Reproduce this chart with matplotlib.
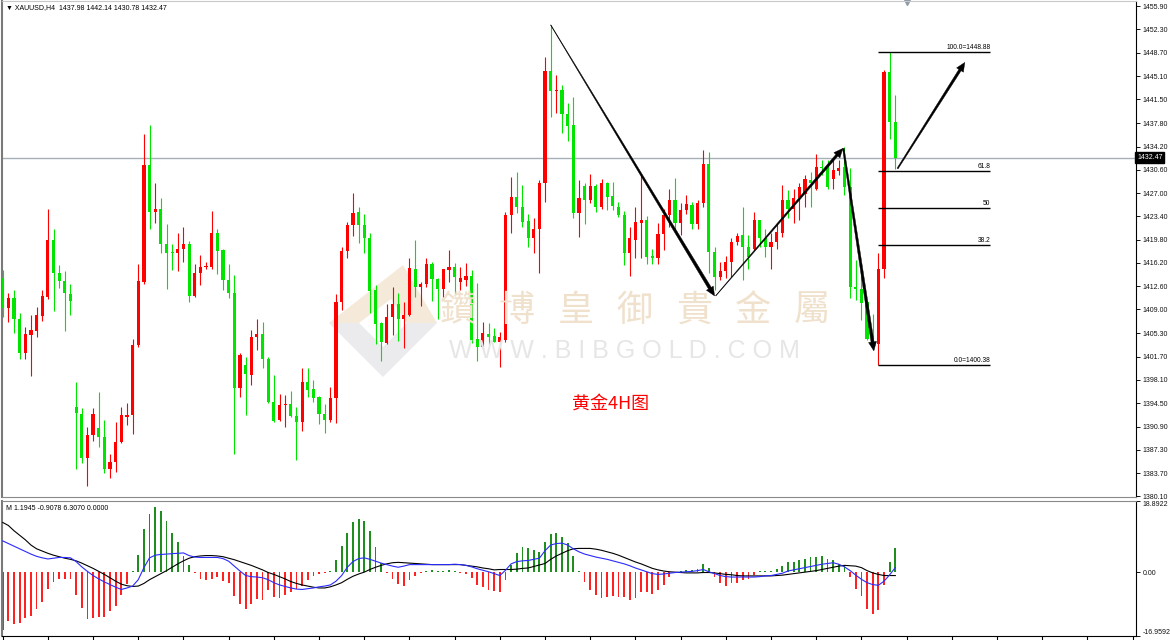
# -*- coding: utf-8 -*-
# XAUUSD H4 chart with MACD pane, MT4 style
import numpy as np
import matplotlib
matplotlib.use("Agg")
import matplotlib.pyplot as plt
from matplotlib.patches import Polygon
from matplotlib.transforms import IdentityTransform, blended_transform_factory

# candle data (H4)
opens = [1413.9, 1409.3, 1410.7, 1407.5, 1402.3, 1405.0, 1405.7, 1408.0, 1411.0, 1419.7,
         1414.7, 1413.4, 1411.4, 1393.9, 1392.9, 1386.1, 1389.6, 1390.6, 1389.3, 1384.4,
         1385.4, 1388.5, 1392.4, 1392.7, 1403.5, 1413.2, 1431.3, 1424.0, 1424.6, 1419.2,
         1417.9, 1417.8, 1418.4, 1419.1, 1411.1, 1414.6, 1415.6, 1415.5, 1420.9, 1418.2,
         1413.5, 1411.6, 1396.8, 1400.4, 1398.9, 1404.7, 1405.2, 1401.4, 1394.7, 1391.9,
         1394.3, 1394.4, 1392.6, 1391.6, 1397.8, 1396.7, 1395.4, 1392.9, 1391.9, 1395.3,
         1410.1, 1418.0, 1422.0, 1424.1, 1422.0, 1420.1, 1412.0, 1406.9, 1403.8, 1407.8,
         1409.9, 1407.6, 1408.1, 1415.3, 1412.4, 1412.9, 1416.1, 1413.7, 1412.1, 1415.1,
         1415.5, 1413.3, 1413.5, 1414.2, 1404.4, 1403.2, 1405.2, 1404.9, 1404.0, 1404.3,
         1423.6, 1426.4, 1424.8, 1422.7, 1420.0, 1421.4, 1428.6, 1445.9, 1442.8, 1442.9,
         1439.3, 1437.5, 1423.9, 1428.1, 1425.9, 1428.1, 1424.9, 1428.6, 1426.5, 1424.9,
         1423.6, 1417.7, 1419.8, 1422.4, 1422.8, 1417.2, 1417.0, 1420.6, 1423.6, 1425.9,
         1422.3, 1424.4, 1425.1, 1422.2, 1425.4, 1431.5, 1417.9, 1414.0, 1415.0, 1416.4,
         1419.5, 1420.5, 1418.7, 1418.4, 1422.8, 1420.0, 1418.7, 1419.5, 1420.8, 1425.9,
         1424.6, 1426.2, 1426.9, 1429.0, 1427.7, 1431.1, 1430.8, 1429.1, 1430.4, 1431.1,
         1428.0, 1412.5, 1412.2, 1410.2, 1405.3, 1403.7, 1415.2, 1445.7, 1437.98]
highs = [1415.1, 1411.5, 1412.0, 1408.4, 1406.3, 1408.2, 1409.4, 1412.0, 1424.6, 1421.5,
         1415.9, 1415.0, 1413.0, 1397.8, 1393.7, 1390.9, 1393.7, 1396.3, 1391.9, 1386.7,
         1391.6, 1393.9, 1394.5, 1404.4, 1416.1, 1436.1, 1437.5, 1428.6, 1426.2, 1422.2,
         1419.1, 1420.8, 1421.7, 1419.6, 1416.1, 1417.4, 1416.4, 1424.2, 1421.4, 1418.4,
         1416.1, 1414.3, 1402.2, 1401.6, 1405.8, 1407.6, 1407.1, 1401.7, 1398.9, 1396.0,
         1395.8, 1396.4, 1393.9, 1399.9, 1399.9, 1398.1, 1395.6, 1394.4, 1397.0, 1411.4,
         1418.6, 1422.6, 1427.0, 1424.9, 1423.8, 1420.8, 1412.8, 1407.1, 1409.9, 1412.4,
         1411.5, 1410.2, 1416.9, 1419.7, 1413.3, 1417.0, 1416.4, 1413.8, 1415.3, 1418.2,
         1416.2, 1415.6, 1416.2, 1415.1, 1413.1, 1407.1, 1406.9, 1406.1, 1405.5, 1424.1,
         1429.5, 1430.3, 1428.2, 1423.8, 1423.1, 1429.0, 1448.0, 1453.0, 1445.2, 1443.7,
         1440.9, 1441.8, 1429.0, 1428.5, 1429.9, 1428.4, 1429.1, 1428.7, 1428.7, 1425.6,
         1424.2, 1421.8, 1424.9, 1429.8, 1423.4, 1418.4, 1422.3, 1424.6, 1427.7, 1429.3,
         1425.4, 1426.7, 1425.6, 1425.9, 1433.6, 1433.4, 1418.7, 1416.4, 1417.2, 1420.0,
         1420.8, 1424.9, 1420.5, 1424.1, 1422.9, 1421.5, 1420.8, 1422.3, 1428.2, 1427.5,
         1427.7, 1428.6, 1429.8, 1430.3, 1433.1, 1432.1, 1432.1, 1432.1, 1432.1, 1434.2,
         1430.8, 1416.6, 1415.3, 1410.3, 1408.3, 1417.7, 1446.0, 1448.88, 1442.14]
lows = [1407.9, 1407.1, 1405.4, 1401.3, 1401.4, 1398.7, 1404.8, 1407.2, 1410.6, 1408.8,
        1412.3, 1405.7, 1408.1, 1384.3, 1385.2, 1381.7, 1388.7, 1387.8, 1383.7, 1383.0,
        1383.9, 1388.4, 1391.1, 1389.8, 1403.2, 1412.9, 1421.4, 1422.3, 1417.8, 1412.1,
        1415.1, 1414.9, 1416.4, 1410.2, 1411.0, 1412.8, 1415.2, 1415.3, 1414.5, 1412.0,
        1410.7, 1386.7, 1395.4, 1392.7, 1397.3, 1402.7, 1399.9, 1394.5, 1391.6, 1391.8,
        1390.8, 1392.3, 1385.7, 1390.2, 1395.5, 1394.7, 1391.3, 1389.9, 1391.6, 1391.5,
        1408.9, 1416.9, 1420.3, 1419.3, 1417.8, 1408.5, 1403.6, 1401.1, 1403.6, 1405.0,
        1404.2, 1403.1, 1408.0, 1411.0, 1409.6, 1412.5, 1410.3, 1407.6, 1410.7, 1413.3,
        1411.2, 1412.0, 1412.6, 1403.8, 1401.1, 1403.0, 1403.5, 1403.9, 1400.1, 1404.0,
        1420.8, 1423.9, 1421.8, 1418.7, 1417.8, 1414.6, 1425.6, 1438.7, 1439.4, 1436.3,
        1435.1, 1423.1, 1420.2, 1422.2, 1425.4, 1424.1, 1424.6, 1424.4, 1424.4, 1423.3,
        1415.9, 1414.2, 1416.9, 1417.0, 1416.1, 1416.1, 1416.1, 1418.2, 1421.8, 1421.4,
        1420.5, 1423.8, 1421.5, 1421.5, 1424.9, 1414.6, 1412.0, 1413.5, 1413.8, 1414.0,
        1419.0, 1413.5, 1415.3, 1418.2, 1418.7, 1417.1, 1415.2, 1418.4, 1420.2, 1423.1,
        1422.3, 1422.8, 1424.9, 1424.9, 1427.5, 1429.8, 1427.7, 1427.7, 1429.8, 1426.7,
        1410.7, 1410.4, 1407.4, 1404.3, 1403.9, 1400.38, 1413.8, 1435.4, 1430.78]
closes = [1409.2, 1410.7, 1407.5, 1402.3, 1405.2, 1405.8, 1408.1, 1411.1, 1419.7, 1414.7,
          1413.4, 1411.5, 1410.3, 1393.0, 1386.1, 1389.6, 1392.8, 1389.3, 1384.4, 1385.4,
          1388.5, 1392.7, 1392.7, 1403.5, 1413.4, 1431.3, 1424.0, 1424.6, 1419.2, 1417.8,
          1417.8, 1418.4, 1419.1, 1411.1, 1414.6, 1415.6, 1415.7, 1420.9, 1418.1, 1413.5,
          1411.5, 1396.8, 1401.9, 1399.0, 1404.8, 1405.2, 1401.3, 1394.7, 1391.8, 1394.3,
          1394.4, 1392.5, 1391.6, 1397.8, 1396.5, 1395.3, 1392.8, 1391.9, 1395.3, 1410.1,
          1418.0, 1422.0, 1423.9, 1422.0, 1420.1, 1411.9, 1406.8, 1403.9, 1407.8, 1409.9,
          1407.6, 1408.1, 1415.4, 1412.4, 1412.9, 1416.1, 1413.7, 1412.1, 1415.2, 1415.5,
          1414.0, 1413.9, 1414.2, 1404.3, 1403.2, 1405.3, 1404.8, 1404.0, 1404.7, 1423.6,
          1426.4, 1424.8, 1422.6, 1420.1, 1421.4, 1428.6, 1445.9, 1442.8, 1443.0, 1439.3,
          1437.4, 1423.9, 1426.2, 1425.9, 1428.1, 1424.9, 1428.5, 1426.4, 1425.0, 1423.6,
          1417.7, 1420.0, 1422.6, 1422.9, 1417.1, 1417.0, 1420.6, 1423.6, 1425.9, 1422.3,
          1424.4, 1425.3, 1422.2, 1425.5, 1431.5, 1417.9, 1414.0, 1415.0, 1416.4, 1419.5,
          1420.3, 1418.7, 1417.1, 1422.8, 1420.0, 1418.7, 1419.5, 1421.0, 1425.9, 1424.6,
          1426.2, 1427.9, 1429.1, 1428.5, 1431.1, 1430.8, 1427.9, 1430.5, 1430.9, 1427.9,
          1412.5, 1412.2, 1410.0, 1404.4, 1404.3, 1415.3, 1445.7, 1438.0, 1432.47]

# MACD pane values
macd_hist = [-15.3, -13.1, -13.7, -13.4, -12.2, -11.6, -9.9, -7.9, -4.5, -2.6,
             -1.7, -1.7, -1.7, -6.1, -9.6, -12.5, -12.2, -12.0, -11.8, -10.2,
             -9.0, -6.1, -3.2, 0.3, 4.6, 11.4, 15.5, 17.2, 16.2, 13.7,
             10.5, 7.9, 4.4, 1.8, -0.3, -1.7, -2.0, -1.7, -1.4, -2.3,
             -3.0, -6.4, -8.5, -9.9, -8.4, -7.2, -7.4, -4.8, -6.7, -7.0,
             -6.1, -5.2, -4.5, -3.7, -2.2, -0.9, -0.4, -0.1, 0.2, 3.1,
             7.0, 10.5, 13.3, 14.2, 13.6, 10.9, 6.8, 2.5, -0.3, -1.9,
             -3.1, -3.7, -2.2, -1.0, -0.3, 0.4, 0.6, 0.3, 0.3, 0.6,
             0.2, -0.2, -0.5, -1.5, -3.3, -3.9, -4.8, -5.0, -5.4, -2.2,
             1.9, 5.0, 6.6, 6.5, 5.9, 5.4, 8.0, 10.2, 10.5, 9.4,
             7.7, 4.2, 0.3, -2.6, -4.8, -6.1, -6.8, -6.6, -6.4, -6.6,
             -6.6, -7.4, -6.8, -5.2, -5.4, -5.7, -4.8, -3.3, -1.3, -0.3,
             0.4, 0.7, 0.7, 0.9, 2.2, 1.0, -1.3, -2.8, -3.7, -3.0,
             -2.8, -2.2, -1.7, -0.7, 0.2, 0.3, 0.4, 0.9, 1.6, 2.6,
             2.8, 3.1, 3.5, 4.0, 4.1, 4.2, 3.5, 3.1, 2.2, 1.8,
             -1.3, -4.5, -6.3, -9.8, -11.1, -10.1, -3.5, 2.6, 6.307]
macd_blue = [8.3, 7.6, 6.9, 6.2, 5.5, 4.8, 4.2, 3.8, 3.5, 3.7,
             3.9, 3.9, 3.8, 2.8, 1.4, 0.2, -0.9, -1.8, -2.6, -3.3,
             -4.0, -4.6, -4.2, -3.7, -2.0, 1.2, 3.8, 4.5, 4.7, 4.8,
             4.9, 5.0, 5.1, 4.4, 4.0, 3.9, 3.9, 3.9, 3.9, 3.6,
             2.9, 1.6, 0.3, -0.9, -1.2, -1.3, -1.5, -2.0, -2.8, -3.4,
             -3.8, -4.2, -4.5, -4.6, -4.4, -4.2, -3.9, -3.7, -3.4, -2.4,
             -0.9, 1.3, 2.8, 3.6, 3.8, 3.4, 2.9, 2.4, 2.0, 1.6,
             1.3, 1.6, 2.0, 2.0, 2.0, 2.0, 2.0, 2.0, 2.0, 2.0,
             2.1, 2.0, 1.8, 1.4, 0.9, 0.5, 0.1, -0.4, -0.9, 0.5,
             2.2, 2.8, 3.0, 3.1, 3.4, 3.7, 5.7, 7.2, 7.6, 7.7,
             7.2, 6.2, 5.4, 4.8, 4.4, 4.0, 3.7, 3.4, 3.0, 2.6,
             2.2, 1.7, 1.1, 0.6, 0.1, -0.4, -0.6, -0.5, -0.3, -0.1,
             0.0, 0.1, 0.2, 0.4, 0.7, 0.1, -0.4, -0.9, -1.2, -1.3,
             -1.3, -1.3, -1.3, -1.3, -1.2, -1.0, -0.9, -0.6, -0.3, 0.3,
             0.6, 0.9, 1.2, 1.5, 1.8, 2.1, 2.3, 2.5, 2.1, 1.4,
             0.4, -0.8, -1.9, -2.8, -3.3, -3.5, -2.4, -0.7, 1.1945]
macd_black = [13.2, 12.4, 11.0, 9.8, 8.6, 7.2, 6.2, 5.6, 5.0, 4.5,
              4.1, 3.7, 3.4, 3.0, 2.4, 1.7, 1.0, 0.2, -0.6, -1.5,
              -2.4, -3.2, -3.6, -3.8, -3.7, -3.0, -2.0, -1.2, -0.4, 0.4,
              1.3, 2.2, 3.0, 3.7, 4.1, 4.3, 4.4, 4.4, 4.3, 4.1,
              3.7, 3.3, 2.8, 2.3, 1.8, 1.2, 0.6, -0.1, -0.6, -1.2,
              -1.8, -2.5, -3.0, -3.4, -3.7, -4.0, -4.2, -4.2, -3.9, -3.4,
              -2.8, -1.9, -1.1, -0.5, 0.0, 0.7, 1.3, 1.8, 2.2, 2.5,
              2.6, 2.5, 2.4, 2.3, 2.2, 2.1, 2.0, 2.0, 2.0, 2.0,
              2.0, 2.0, 1.8, 1.6, 1.4, 1.1, 0.9, 0.6, 0.7, 0.7,
              0.7, 0.8, 1.0, 1.1, 1.5, 1.9, 2.3, 3.4, 4.3, 5.0,
              5.7, 6.2, 6.3, 6.3, 6.3, 6.1, 5.8, 5.4, 5.0, 4.5,
              3.9, 3.3, 2.7, 2.2, 1.6, 1.0, 0.6, 0.3, 0.1, 0.0,
              -0.1, -0.2, -0.2, -0.2, -0.1, -0.1, -0.2, -0.4, -0.6, -0.7,
              -0.9, -1.0, -1.0, -1.0, -1.0, -1.0, -1.0, -0.9, -0.8, -0.6,
              -0.4, -0.2, 0.0, 0.2, 0.4, 0.7, 1.0, 1.3, 1.6, 1.8,
              1.7, 1.6, 1.2, 0.4, -0.2, -0.6, -0.9, -0.9, -0.9078]

# right axis labels
price_ticks = [1455.90, 1452.30, 1448.70, 1445.10, 1441.50, 1437.80, 1434.20, 1430.60,
               1427.00, 1423.40, 1419.80, 1416.20, 1412.60, 1409.00, 1405.30, 1401.70,
               1398.10, 1394.50, 1390.90, 1387.30, 1383.70, 1380.10]
macd_ticks = [18.8922, 0.0, -16.9592]
macd_labels = ["18.8922", "0.00", "-16.9592"]
last_price = 1432.47

# fibonacci retracement
fib_low = 1400.38
fib_high = 1448.88
fib_levels = [0.0, 38.2, 50.0, 61.8, 100.0]
fib_names = ["0.0=1400.38", "38.2", "50", "61.8", "100.0=1448.88"]

# arrows drawn on the chart: (candle index, price)
arrow_legs = [((97.0, 1453.0), (126.0, 1411.1), 0.4, 3.2),
              ((126.2, 1411.1), (148.7, 1433.9), 0.4, 2.6),
              ((148.8, 1433.9), (154.2, 1402.6), 1.6, 3.0),
              ((158.4, 1430.8), (170.3, 1447.2), 1.2, 2.6)]

header = "XAUUSD,H4  1437.98 1442.14 1430.78 1432.47"
macd_header = "M 1.1945 -0.9078 6.3070 0.0000"
chart_note = "黄金4H图"

W, H = 1170, 640
UP = "#ff0000"
DOWN = "#00e400"
FONT = ["Liberation Sans", "DejaVu Sans"]


def fpos(px, py):
    # pixel position -> figure fraction
    return px / W, 1 - py / H


def tapered_arrow(ax, p0, p1, w0, w1, head_len=9.0, head_w=4.0):
    a = ax.transData.transform(p0)
    b = ax.transData.transform(p1)
    d = b - a
    u = d / np.hypot(d[0], d[1])
    nr = np.array([-u[1], u[0]])
    base = b - u * head_len
    pts = [a + nr * w0 / 2, base + nr * w1 / 2, base + nr * head_w, b,
           base - nr * head_w, base - nr * w1 / 2, a - nr * w0 / 2]
    ax.figure.add_artist(Polygon(pts, closed=True, fc="black", ec="black", lw=0.3,
                                 transform=IdentityTransform(), zorder=8))


fig = plt.figure(figsize=(W / 100, H / 100), dpi=100)
fig.patch.set_facecolor("white")

ax = fig.add_axes([2 / W, 1 - 497 / H, 1134 / W, 496 / H])
ax2 = fig.add_axes([2 / W, 4 / H, 1134 / W, 135 / H])

xmin, xmax = -0.12, 200.6
ax.set_xlim(xmin, xmax)
ax.set_ylim(1380.0, 1456.7)
ax2.set_xlim(xmin, xmax)
ax2.set_ylim(-16.9592, 18.8922)

# ---- watermark (behind everything) ----
wm_chars = ["鑽", "博", "皇", "御", "貴", "金", "屬"]
for k, ch in enumerate(wm_chars):
    fx, fy = fpos(458 + k * 59, 311)
    fig.text(fx, fy, ch, fontsize=26, color="#f0e1cc", ha="center", va="center",
             family=["Noto Sans CJK TC", "DejaVu Sans"], zorder=0)
fx, fy = fpos(624, 351)
fig.text(fx, fy, " ".join("WWW.BIBGOLD.COM"), fontsize=18, color="#e6e6e6",
         ha="center", va="center", family=FONT, zorder=0)
# diamond logo
cx, cy, r1, r2 = 383, 323, 54, 24
outer = [(cx - r1, cy), (cx + 20, cy - r1 - 4), (cx + r1, cy), (cx, cy + r1)]
top_band = [fpos(*p) for p in [outer[0], outer[1], outer[2], (cx + r2, cy), (cx + 8, cy - r2), (cx - r2, cy)]]
bot_band = [fpos(*p) for p in [outer[0], (cx - r2, cy), (cx, cy + r2), (cx + r2, cy), outer[2], outer[3]]]
fig.add_artist(Polygon(top_band, closed=True, fc="#f5ead9", ec="none", transform=fig.transFigure, zorder=0))
fig.add_artist(Polygon(bot_band, closed=True, fc="#ebebed", ec="none", transform=fig.transFigure, zorder=0))
ax.set_facecolor("none")
ax2.set_facecolor("none")

# ---- candles ----
o = np.array(opens)
hi = np.array(highs)
lo = np.array(lows)
c = np.array(closes)
x = np.arange(len(c))
cols = np.where(c >= o, UP, DOWN)
ax.vlines(x, lo, hi, colors=cols, lw=0.8, zorder=3)
ax.bar(x, np.maximum(np.abs(c - o), 0.15), bottom=np.minimum(o, c), width=0.56,
       color=cols, linewidth=0, zorder=4)

# current price line
ax.axhline(last_price, color="#a7afb8", lw=1.0, zorder=2)

# fibonacci levels
fib_x0, fib_x1 = 155.0, 174.8
for lev, name in zip(fib_levels, fib_names):
    p = fib_low + lev / 100.0 * (fib_high - fib_low)
    ax.hlines(p, fib_x0, fib_x1, color="black", lw=1.0, zorder=5)
    ax.text(fib_x1, p + 0.15, name, fontsize=4.8, ha="right", va="bottom",
            family=FONT, zorder=6)

# text on chart
ax.text(4 / 1134, 1 - 7 / 496, "\u25bc " + header, transform=ax.transAxes, fontsize=5,
        ha="left", va="center", family=FONT)
fx, fy = fpos(611, 404)
fig.text(fx, fy, chart_note, fontsize=13, color="#ff0000", ha="center",
         va="center", family=["Noto Sans CJK SC", "DejaVu Sans"], zorder=6)
ax.plot([160.0], [0.997], marker="v", ms=5, color="#8e9aa8",
        transform=blended_transform_factory(ax.transData, ax.transAxes), clip_on=False)

# right price axis
ax.yaxis.tick_right()
ax.set_yticks(price_ticks)
ax.set_yticklabels(["%.2f" % v for v in price_ticks])
ax.set_xticks([])
ax.tick_params(axis="y", length=3, width=0.7, labelsize=5, pad=2, colors="#111111")
for t in ax.get_yticklabels():
    t.set_family(FONT)
ax.spines["right"].set_color("black")
ax.spines["left"].set_color("#7a7a7a")
ax.spines["left"].set_linewidth(1.5)
ax.spines["top"].set_color("#c8c8c8")
ax.spines["bottom"].set_color("#8a8a8a")

# last price box
ax.text(1.001, last_price, "%.2f" % last_price,
        transform=blended_transform_factory(ax.transAxes, ax.transData),
        fontsize=5, color="white", ha="left", va="center", family=FONT,
        bbox=dict(boxstyle="square,pad=0.25", fc="black", ec="black"), clip_on=False)

# arrows
for p0, p1, w0, w1 in arrow_legs:
    tapered_arrow(ax, p0, p1, w0, w1)

# ---- MACD pane ----
hist = np.array(macd_hist)
ax2.bar(x, hist, width=0.32, color=np.where(hist >= 0, "#1e8f1e", "#ff2020"), linewidth=0, zorder=2)
ax2.plot(x, macd_black, color="black", lw=0.8, zorder=3)
ax2.plot(x, macd_blue, color="#2a2aff", lw=0.8, zorder=4)
ax2.text(4 / 1134, 1 - 7 / 135, macd_header, transform=ax2.transAxes, fontsize=5,
         ha="left", va="center", family=FONT)

ax2.yaxis.tick_right()
ax2.set_yticks(macd_ticks)
ax2.set_yticklabels(macd_labels)
ax2.tick_params(axis="y", length=3, width=0.7, labelsize=5, pad=2, colors="#111111")
labs = ax2.get_yticklabels()
labs[0].set_va("top")
labs[2].set_va("bottom")
for t in labs:
    t.set_family(FONT)
ax2.set_xticks(np.arange(0, 201, 8))
ax2.tick_params(axis="x", length=3, width=0.8, labelbottom=False, direction="out")
ax2.spines["right"].set_color("black")
ax2.spines["bottom"].set_color("black")
ax2.spines["left"].set_color("#7a7a7a")
ax2.spines["left"].set_linewidth(1.5)
ax2.spines["top"].set_color("#8a8a8a")

fig.savefig("out.png", dpi=100)
